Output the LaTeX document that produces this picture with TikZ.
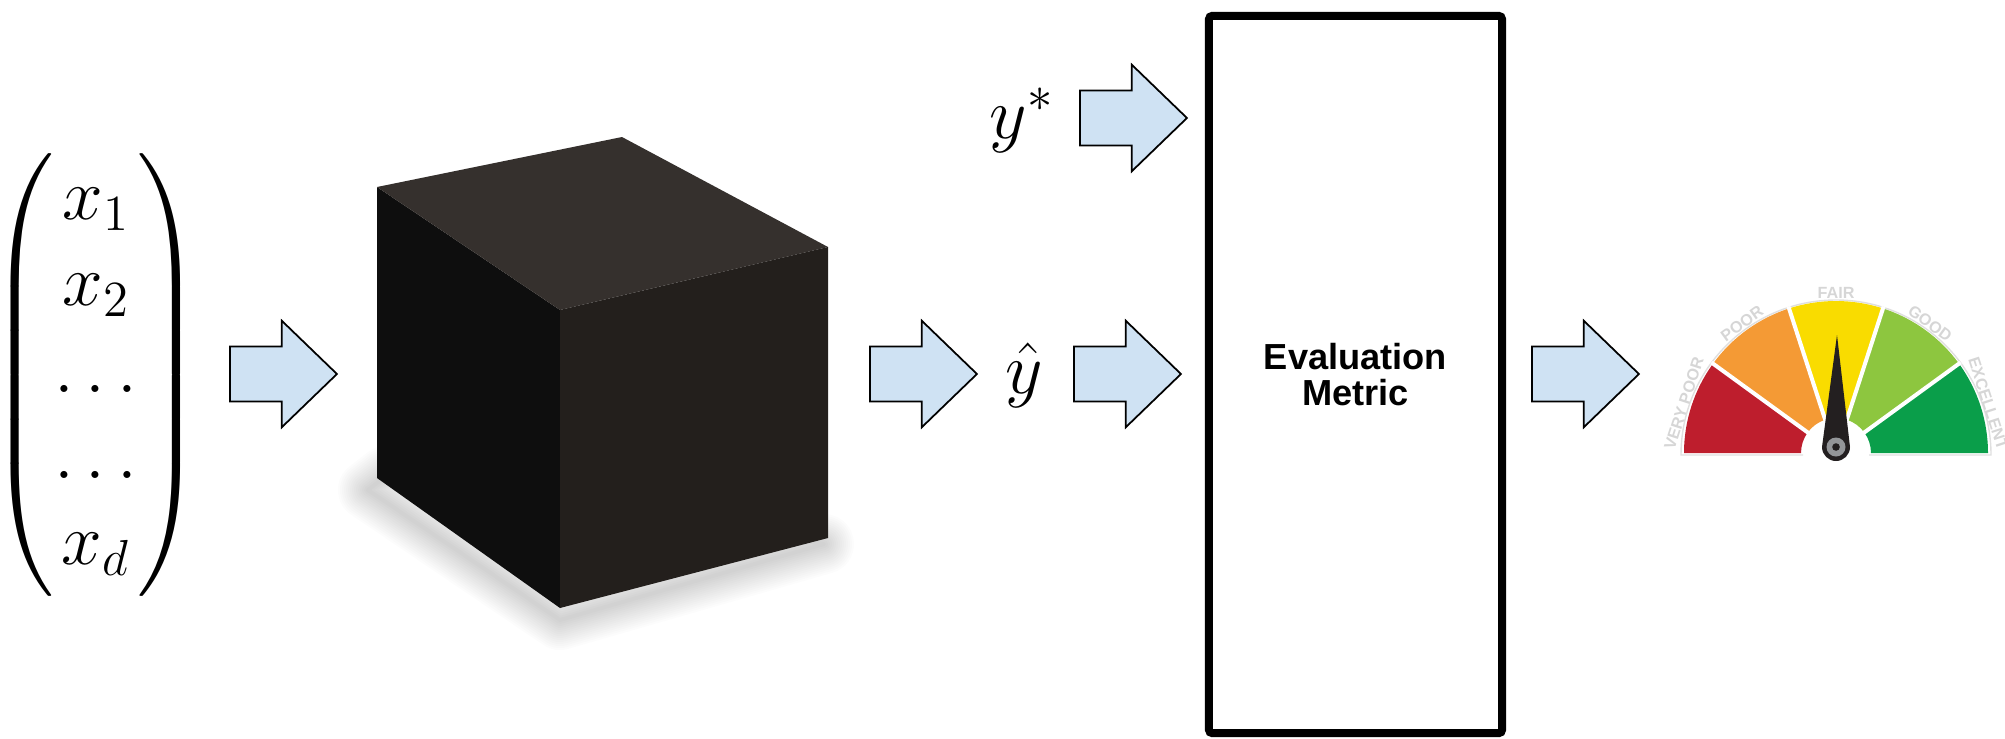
\documentclass[tikz,border=0pt]{standalone}
\usepackage{amsmath,amssymb}
\usepackage{fontspec}
\newfontfamily\metricfont{Liberation Sans}
\usepackage{tikz}
\usetikzlibrary{shapes.arrows, arrows.meta, calc}

\definecolor{arrowblue}{HTML}{CFE2F3}
\definecolor{cubeleft}{HTML}{0E0E0E}
\definecolor{cubetop}{HTML}{35302D}
\definecolor{cuberight}{HTML}{231F1C}
\definecolor{gaugered}{HTML}{BE1E2D}
\definecolor{gaugeorange}{HTML}{F49A35}
\definecolor{gaugeyellow}{HTML}{F9DC00}
\definecolor{gaugelime}{HTML}{8DC63F}
\definecolor{gaugegreen}{HTML}{0A9E4A}
\definecolor{needle}{HTML}{231F20}
\definecolor{ringgray}{HTML}{939598}

\begin{document}
\begin{tikzpicture}[x=0.01cm, y=0.01cm,
    blockarrow/.style={single arrow, draw, fill=arrowblue, line width=0.5pt, minimum height=1.07cm,
        inner xsep=0pt, inner ysep=0.265cm, single arrow head extend=0.26cm, single arrow tip angle=88, anchor=tail},
    mathbig/.style={font=\fontsize{20}{24}\selectfont, inner sep=0pt, anchor=base},
    gaugelabel/.style={font=\metricfont\bfseries\fontsize{4.6}{5}\selectfont, text=gray!32, inner sep=0pt}]
    \useasboundingbox (0,0) rectangle (2005,738);

    \node[font=\fontsize{21}{24.55}\selectfont, inner sep=0pt] (vec) at (96,363)
        {$\delimitershortfall=-3pt\begin{pmatrix} x_1\\ x_2\\ \ldots\\ \ldots\\ x_d \end{pmatrix}$};
    \node[blockarrow] (a1) at (229,364) {};

    \foreach \w in {60,56,...,4}
        \draw[black, opacity=0.012, line width=\w*0.01cm, line join=round]
            (386,262) -- (368,248) -- (560,118) -- (824,194) -- cycle;
    \fill[cubeleft] (377,551) -- (560,428) -- (560,130) -- (377,260) -- cycle;
    \fill[cubetop] (377,551) -- (622,601) -- (828,491) -- (560,428) -- cycle;
    \fill[cuberight] (560,428) -- (828,491) -- (828,200) -- (560,130) -- cycle;

    \node[blockarrow] (a2) at (869,364) {};
    \node[mathbig] (yhat) at (1024,345) {$\hat{y}$};
    \node[blockarrow] (a3) at (1073,364) {};
    \node[mathbig] (ystar) at (1022,600) {$y^*$};
    \node[blockarrow] (a4) at (1079,620) {};

    \node[draw, line width=0.08cm, rounded corners=1pt, minimum width=2.93cm, minimum height=7.17cm,
        align=center, font=\metricfont\bfseries\fontsize{10.3}{10}\selectfont] (metric) at (1355.5,363.5)
        {Evaluation\\Metric};
    \node[blockarrow] (a5) at (1531,364) {};

    \begin{scope}[shift={(1836,285)}]
        \draw[gray!25, line width=0.4pt] (-33,-2) -- (-155,-2) arc[start angle=180, end angle=0, radius=155] -- (33,-2);
        \foreach \a/\col in {0/gaugegreen, 36/gaugelime, 72/gaugeyellow, 108/gaugeorange, 144/gaugered}
            \fill[\col] (\a:35) -- (\a:152) arc[start angle=\a, end angle=\a+36, radius=152]
                -- (\a+36:35) arc[start angle=\a+36, end angle=\a, radius=35] -- cycle;
        \foreach \a in {36,72,108,144}
            \draw[white, line width=0.04cm] (\a:30) -- (\a:154);
        \foreach \a/\lab in {162/VERY POOR, 126/POOR, 90/FAIR, 54/GOOD, 18/EXCELLENT}
            \node[gaugelabel, rotate=\a-90] (g\a) at (\a:160) {\lab};
        \fill[needle] (-14,6) -- (1,118) -- (14,6) arc[start angle=0, end angle=-180, radius=14] -- cycle;
        \fill[ringgray] (0,6) circle[radius=9.5];
        \fill[needle] (0,6) circle[radius=3.8];
    \end{scope}
\end{tikzpicture}
\end{document}
